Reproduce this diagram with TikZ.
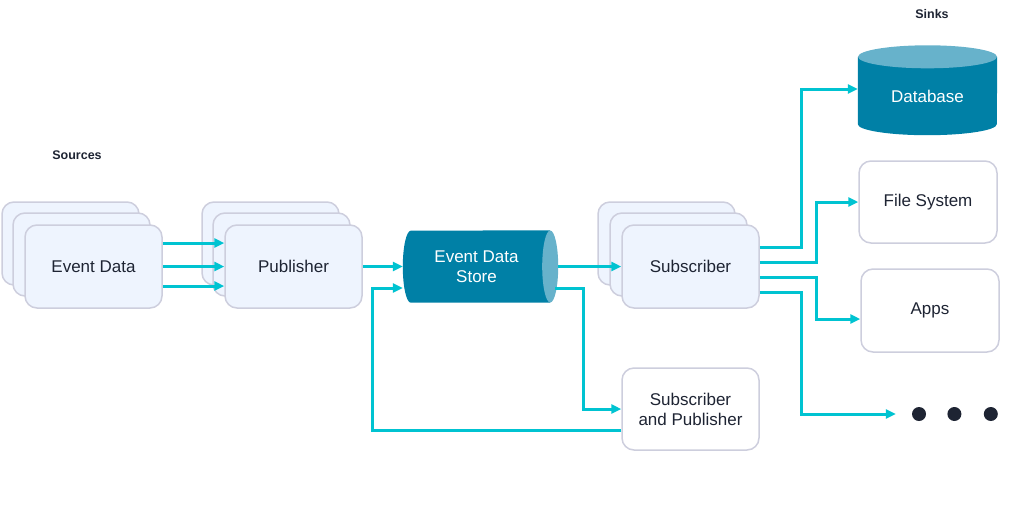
\documentclass[tikz,border=0pt]{standalone}
\usepackage{fontspec}
\setmainfont{Liberation Sans}
\usepackage{tikz}
\usetikzlibrary{positioning}
\usetikzlibrary{arrows.meta}
\usetikzlibrary{backgrounds}

\definecolor{boxfill}{HTML}{EEF4FE}
\definecolor{boxline}{HTML}{CDCEDD}
\definecolor{inktext}{HTML}{1E2433}
\definecolor{storedark}{HTML}{0080A6}
\definecolor{storelight}{HTML}{67B2CB}
\definecolor{flowcyan}{HTML}{00C3D1}

\tikzset{
    box/.style={draw=boxline, line width=1.5pt, fill=boxfill, rounded corners=12pt,
        minimum width=137pt, minimum height=83pt, inner sep=0pt, align=center,
        text=inktext, font=\fontsize{17}{20}\selectfont},
    sinkbox/.style={box, fill=white},
    drum/.style={inner sep=0pt, align=center, text=white, font=\fontsize{17}{20}\selectfont},
    flow/.style={draw=flowcyan, line width=3pt, -{Triangle[length=10pt,width=9pt]}},
    heading/.style={text=inktext, font=\fontsize{12.5}{15}\selectfont\bfseries},
    dot/.style={circle, fill=inktext, minimum size=14pt, inner sep=0pt},
}

\begin{document}
\begin{tikzpicture}[x=1pt, y=-1pt]
    \useasboundingbox (0,0) rectangle (1024,512);

    \node[heading] (sources) at (77,155) {Sources};
    \node[heading] (sinks) at (932,14) {Sinks};

    \node[box] (evt3) at (70.5,243.5) {};
    \node[box] (evt2) at (81.5,254.5) {};
    \node[box] (evt1) at (93.5,266.5) {Event Data};

    \node[box] (pub3) at (270.5,243.5) {};
    \node[box] (pub2) at (281.5,254.5) {};
    \node[box] (pub1) at (293.5,266.5) {Publisher};

    \node[drum, minimum width=147pt, minimum height=72pt] (store) at (476.5,266.5) {Event Data\\Store};
    \begin{scope}[on background layer]
        \fill[storedark] ([xshift=8pt]store.south west) arc[start angle=270, end angle=90, x radius=8pt, y radius=36pt]
            -- (store.north east) -- (store.south east) -- cycle;
        \fill[storelight] (store.east) ellipse[x radius=8pt, y radius=36pt];
    \end{scope}

    \node[box] (sub3) at (666.5,243.5) {};
    \node[box] (sub2) at (678.5,254.5) {};
    \node[box] (sub1) at (690.5,266.5) {Subscriber};

    \node[sinkbox, minimum height=82pt] (sp) at (690.5,409) {Subscriber\\and Publisher};

    \node[drum, minimum width=139pt, minimum height=78pt] (db) at (927.5,96) {Database};
    \begin{scope}[on background layer]
        \fill[storedark] (db.north west) -- ([yshift=11pt]db.south west)
            arc[start angle=180, end angle=360, x radius=69.5pt, y radius=11pt]
            -- (db.north east) -- cycle;
        \fill[storelight] (db.north) ellipse[x radius=69.5pt, y radius=11.5pt];
    \end{scope}

    \node[sinkbox, minimum width=138pt, minimum height=82pt] (fs) at (928,202) {File System};
    \node[sinkbox, minimum width=138pt, minimum height=83pt] (apps) at (930,310.5) {Apps};

    \node[dot] (dot1) at (919,414) {};
    \node[dot, right=21pt of dot1] (dot2) {};
    \node[dot, right=22pt of dot2] (dot3) {};
    \coordinate[left=16pt of dot1] (moreend);

    \draw[flow] ([yshift=23.5pt]evt1.east) -- ([yshift=23.5pt]pub1.west);
    \draw[flow] (evt1.east) -- (pub1.west);
    \draw[flow] ([yshift=-19.5pt]evt1.east) -- ([yshift=-19.5pt]pub1.west);

    \draw[flow] (pub1.east) -- (store.west);
    \draw[flow] ([xshift=8pt]store.east) -- (sub1.west);
    \draw[flow] ([xshift=5pt,yshift=-21.5pt]store.east) -- ++(28pt,0) |- (sp.west);
    \draw[flow] ([yshift=-21pt]sp.west) -- ++(-249pt,0) |- ([yshift=-21.5pt]store.west);

    \draw[flow] ([yshift=19.5pt]sub1.east) -- ++(42pt,0) |- ([yshift=7pt]db.west);
    \draw[flow] ([yshift=4.5pt]sub1.east) -- ++(57pt,0) |- (fs.west);
    \draw[flow] ([yshift=-10.5pt]sub1.east) -- ++(57pt,0) |- ([yshift=-8.5pt]apps.west);
    \draw[flow] ([yshift=-25.5pt]sub1.east) -- ++(42pt,0) |- (moreend);
\end{tikzpicture}
\end{document}
